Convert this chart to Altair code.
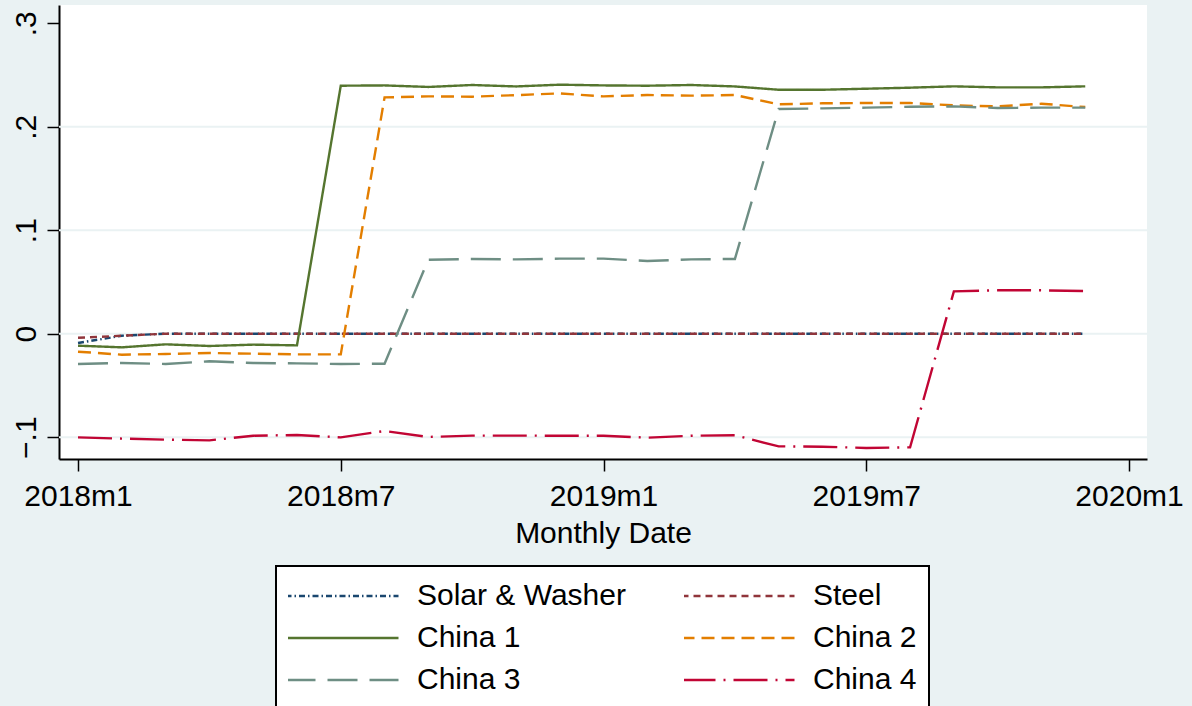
import altair as alt
import pandas as pd

# Monthly index: 0 = 2018m1 ... 23 = 2019m12
months = list(range(24))

series_names = ["Solar & Washer", "Steel", "China 1", "China 2", "China 3", "China 4"]
series_colors = ["#1a476f", "#90353b", "#55752f", "#e37e00", "#6e8e84", "#c10534"]
series_dashes = [[6, 3, 1.5, 3], [7, 5], [1, 0], [13, 7], [30, 12], [34, 8, 2, 8]]

solar_washer = [-0.009, -0.002] + [0.0] * 22
steel = [-0.004, -0.002] + [0.0] * 22
china_1 = [-0.0116, -0.0132, -0.0103, -0.0119, -0.0106, -0.0113,
           0.2396, 0.2399, 0.2384, 0.2403, 0.2389, 0.2406,
           0.2399, 0.2396, 0.2403, 0.2389, 0.2357, 0.2357,
           0.2367, 0.2377, 0.2390, 0.2380, 0.2380, 0.2390]
china_2 = [-0.0174, -0.0203, -0.0196, -0.0187, -0.0193, -0.0200,
           -0.0200, 0.2283, 0.2293, 0.2290, 0.2305, 0.2322,
           0.2293, 0.2306, 0.2300, 0.2306, 0.2216, 0.2226,
           0.2229, 0.2229, 0.2206, 0.2196, 0.2222, 0.2190]
china_3 = [-0.0293, -0.0283, -0.0293, -0.0267, -0.0283, -0.0287,
           -0.0293, -0.0290, 0.0715, 0.0722, 0.0718, 0.0725,
           0.0725, 0.0702, 0.0718, 0.0722, 0.2171, 0.2177,
           0.2184, 0.2193, 0.2196, 0.2181, 0.2184, 0.2184]
china_4 = [-0.1002, -0.1014, -0.1024, -0.1031, -0.0986, -0.0979,
           -0.1002, -0.0940, -0.0998, -0.0985, -0.0985, -0.0986,
           -0.0986, -0.1005, -0.0986, -0.0982, -0.1089, -0.1092,
           -0.1104, -0.1098, 0.0409, 0.0419, 0.0419, 0.0412]

x_tick_values = [0, 6, 12, 18, 24]
x_tick_labels = ["2018m1", "2018m7", "2019m1", "2019m7", "2020m1"]
y_tick_values = [-0.1, 0.0, 0.1, 0.2, 0.3]
grid_values = [-0.1, 0.0, 0.1, 0.2]

series_values = [solar_washer, steel, china_1, china_2, china_3, china_4]
rows = []
for name, vals in zip(series_names, series_values):
    for m, v in zip(months, vals):
        rows.append({"month": m, "value": v, "series": name})
df = pd.DataFrame(rows)
grid_df = pd.DataFrame({"g": grid_values})

# The legend fills column by column, so order the scale domain so that
# entries read pairwise across the two columns.
order = [0, 2, 4, 1, 3, 5]
legend_names = [series_names[i] for i in order]
legend_colors = [series_colors[i] for i in order]
legend_dashes = [series_dashes[i] for i in order]

FONT = "Liberation Sans"
label_lookup = "[" + ",".join("'%s'" % s for s in x_tick_labels) + "]"

x_enc = alt.X(
    "month:Q",
    scale=alt.Scale(domain=[-0.434, 24.41], nice=False, zero=False),
    axis=alt.Axis(
        values=x_tick_values,
        labelExpr=label_lookup + "[round(datum.value / 6)]",
        title="Monthly Date",
        grid=False,
        tickSize=12,
        labelPadding=10,
        titlePadding=7,
        labelFontSize=30,
        titleFontSize=30,
        titleFontWeight="normal",
        labelFont=FONT,
        titleFont=FONT,
        labelColor="black",
        titleColor="black",
        domainColor="black",
        domainWidth=2,
        tickColor="black",
        tickWidth=1.5,
        labelFlush=False,
        labelOverlap=False,
    ),
)

y_scale = alt.Scale(domain=[-0.1211, 0.3176], nice=False, zero=False)
y_axis = alt.Axis(
    values=y_tick_values,
    labelExpr="datum.value == 0 ? '0' : replace(format(datum.value, '.1f'), '0.', '.')",
    title=None,
    grid=False,
    tickSize=12,
    labelAngle=270,
    labelAlign="center",
    labelBaseline="alphabetic",
    labelPadding=12,
    labelFontSize=30,
    labelFont=FONT,
    labelColor="black",
    domainColor="black",
    domainWidth=2,
    tickColor="black",
    tickWidth=1.5,
    labelFlush=False,
    labelOverlap=False,
)

grid = alt.Chart(grid_df).mark_rule(color="#eaf2f3", strokeWidth=2).encode(
    y=alt.Y("g:Q", scale=y_scale, axis=y_axis)
)

lines = alt.Chart(df).mark_line(strokeWidth=2.4).encode(
    x=x_enc,
    y=alt.Y("value:Q", scale=y_scale, axis=y_axis),
    color=alt.Color(
        "series:N",
        scale=alt.Scale(domain=legend_names, range=legend_colors),
        legend=alt.Legend(title=None),
    ),
    strokeDash=alt.StrokeDash(
        "series:N",
        scale=alt.Scale(domain=legend_names, range=legend_dashes),
        legend=alt.Legend(title=None),
    ),
    detail="series:N",
)

chart = (
    alt.layer(grid, lines)
    .properties(
        width=1088,
        height=454,
        autosize=alt.AutoSizeParams(type="none"),
        padding={"left": 59, "top": 5, "right": 45, "bottom": 247},
        background="#eaf2f3",
    )
    .configure_view(fill="white", strokeWidth=0)
    .configure_legend(
        orient="none",
        legendX=217,
        legendY=561,
        columns=2,
        symbolType="stroke",
        symbolSize=12769,
        symbolStrokeWidth=2.4,
        symbolOffset=-4,
        labelFont=FONT,
        labelFontSize=30,
        labelColor="black",
        labelOffset=17,
        labelLimit=400,
        columnPadding=58,
        rowPadding=6,
        clipHeight=36,
        padding=12,
        fillColor="white",
        strokeColor="black",
        strokeWidth=2,
        cornerRadius=0,
    )
)

chart.save("out.html", embed_options={"renderer": "svg", "actions": False})
